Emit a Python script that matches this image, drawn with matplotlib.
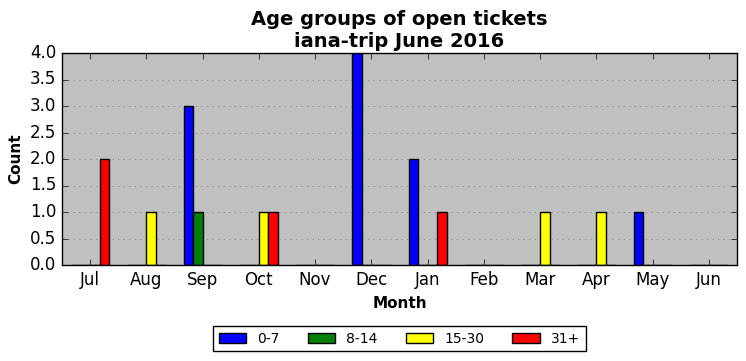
import matplotlib
matplotlib.use('Agg')
import matplotlib.pyplot as plt
import numpy as np

months = ["Jul", "Aug", "Sep", "Oct", "Nov", "Dec", "Jan", "Feb", "Mar", "Apr", "May", "Jun"]
age_groups = ["0-7", "8-14", "15-30", "31+"]
colors = ["blue", "green", "yellow", "red"]

count_0_7 = [0, 0, 3, 0, 0, 4, 2, 0, 0, 0, 1, 0]
count_8_14 = [0, 0, 1, 0, 0, 0, 0, 0, 0, 0, 0, 0]
count_15_30 = [0, 1, 0, 1, 0, 0, 0, 0, 1, 1, 0, 0]
count_31_plus = [2, 0, 0, 1, 0, 0, 1, 0, 0, 0, 0, 0]
series = [count_0_7, count_8_14, count_15_30, count_31_plus]

plt.style.use('classic')
fig, ax = plt.subplots(figsize=(7.46, 3.61), dpi=100)
fig.subplots_adjust(left=62 / 746, right=737 / 746, top=1 - 53 / 361, bottom=1 - 265 / 361)

x = np.arange(len(months))
width = 0.17
for k, (vals, lab, col) in enumerate(zip(series, age_groups, colors)):
    ax.bar(x + (k - 2) * width, vals, width, align='edge', color=col, edgecolor='black', label=lab)

ax.set_facecolor('#c0c0c0')
ax.set_xlim(-0.5, len(months) - 0.5)
ax.set_ylim(0, 4)
ax.set_xticks(x)
ax.set_xticklabels(months)
ax.set_yticks(np.arange(0, 4.01, 0.5))
ax.yaxis.grid(True, color='gray', linestyle=':')
ax.set_axisbelow(True)

ax.set_title("Age groups of open tickets\niana-trip June 2016", fontsize=14, fontweight='bold', y=0.995)
ax.set_xlabel("Month", fontsize=11, fontweight='bold')
ax.set_ylabel("Count", fontsize=11, fontweight='bold')

ax.legend(loc='upper center', bbox_to_anchor=(0.5, -0.255), ncol=4, fontsize=10,
          handlelength=2.0)

plt.savefig("out.png", dpi=100)
